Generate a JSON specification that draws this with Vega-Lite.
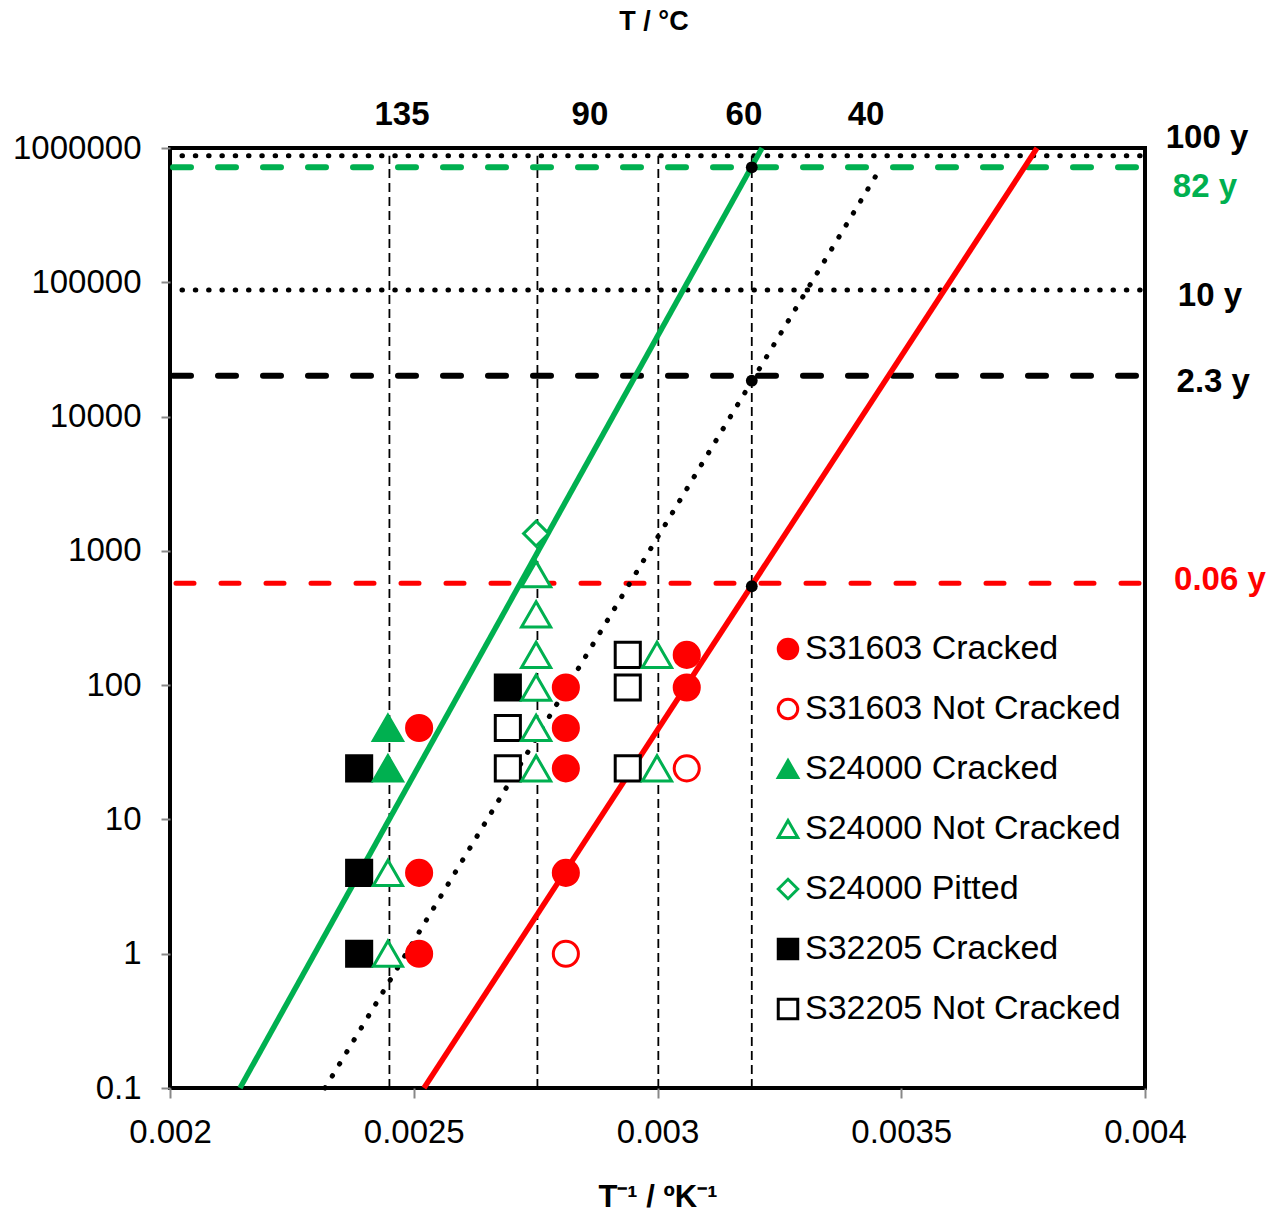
{
  "$schema": "https://vega.github.io/schema/vega-lite/v6.json",
  "width": 975,
  "height": 940,
  "autosize": {"type": "none"},
  "padding": {"left": 170, "top": 148, "right": 128, "bottom": 127},
  "background": "white",
  "config": {
    "view": {"stroke": "black", "strokeWidth": 4},
    "font": "Liberation Sans",
    "legend": {
      "orient": "none",
      "legendX": 601,
      "legendY": 484,
      "padding": 0,
      "labelFont": "Liberation Sans",
      "labelFontSize": 34,
      "labelColor": "black",
      "labelLimit": 500,
      "labelOffset": 0,
      "symbolSize": 380,
      "symbolStrokeWidth": 3,
      "rowPadding": 26
    }
  },
  "encoding": {
    "x": {
      "field": "x",
      "type": "quantitative",
      "scale": {"domain": [0.002, 0.004], "nice": false, "zero": false},
      "axis": {
        "values": [0.002, 0.0025, 0.003, 0.0035, 0.004],
        "format": "~f",
        "labelFont": "Liberation Sans",
        "labelFontSize": 33,
        "labelColor": "black",
        "labelPadding": 18,
        "labelFlush": false,
        "labelOverlap": false,
        "tickColor": "#888888",
        "tickSize": 10,
        "tickWidth": 2,
        "domain": false,
        "grid": false,
        "title": "T⁻¹ / ºK⁻¹",
        "titleFont": "Liberation Sans",
        "titleFontSize": 31,
        "titleFontWeight": "bold",
        "titleColor": "black",
        "titlePadding": 33
      }
    },
    "y": {
      "field": "hours",
      "type": "quantitative",
      "scale": {"type": "log", "domain": [0.1, 1000000], "nice": false},
      "axis": {
        "values": [0.1, 1, 10, 100, 1000, 10000, 100000, 1000000],
        "format": "~f",
        "labelFont": "Liberation Sans",
        "labelFontSize": 33,
        "labelColor": "black",
        "labelPadding": 20,
        "labelOverlap": false,
        "tickColor": "#888888",
        "tickSize": 9,
        "tickWidth": 2,
        "domain": false,
        "grid": false,
        "title": null
      }
    },
    "shape": {
      "field": "series", "type": "nominal",
      "scale": {
        "domain": ["S31603 Cracked", "S31603 Not Cracked", "S24000 Cracked", "S24000 Not Cracked", "S24000 Pitted", "S32205 Cracked", "S32205 Not Cracked"],
        "range": ["circle", "circle", "triangle-up", "triangle-up", "diamond", "square", "square"]
      },
      "legend": {"title": null}
    },
    "stroke": {
      "field": "series", "type": "nominal",
      "scale": {
        "domain": ["S31603 Cracked", "S31603 Not Cracked", "S24000 Cracked", "S24000 Not Cracked", "S24000 Pitted", "S32205 Cracked", "S32205 Not Cracked"],
        "range": ["#FF0000", "#FF0000", "#00B050", "#00B050", "#00B050", "#000000", "#000000"]
      },
      "legend": {"title": null}
    },
    "fill": {
      "field": "series", "type": "nominal",
      "scale": {
        "domain": ["S31603 Cracked", "S31603 Not Cracked", "S24000 Cracked", "S24000 Not Cracked", "S24000 Pitted", "S32205 Cracked", "S32205 Not Cracked"],
        "range": ["#FF0000", "#FFFFFF", "#00B050", "#FFFFFF", "#FFFFFF", "#000000", "#FFFFFF"]
      },
      "legend": {"title": null}
    }
  },
  "layer": [
    {
      "data": {"values": [
        {"x": 0.0024501, "hours": 0.1, "hours2": 876000},
        {"x": 0.0027537, "hours": 0.1, "hours2": 876000},
        {"x": 0.0030017, "hours": 0.1, "hours2": 876000},
        {"x": 0.0031934, "hours": 0.1, "hours2": 876000}
      ]},
      "mark": {"type": "rule", "color": "black", "strokeWidth": 1.8, "strokeDash": [9, 5]},
      "encoding": {"y2": {"field": "hours2"}, "shape": null, "stroke": null, "fill": null}
    },
    {
      "data": {"values": [
        {"x": 0.002, "x2": 0.004, "hours": 876000},
        {"x": 0.002, "x2": 0.004, "hours": 87600}
      ]},
      "mark": {"type": "rule", "color": "black", "strokeWidth": 5, "strokeDash": [0.5, 12.8], "strokeCap": "round", "strokeDashOffset": -12},
      "encoding": {"x2": {"field": "x2"}, "shape": null, "stroke": null, "fill": null}
    },
    {
      "data": {"values": [{"x": 0.002, "x2": 0.004, "hours": 718320}]},
      "mark": {"type": "rule", "color": "#00B050", "strokeWidth": 6, "strokeDash": [18, 27], "strokeCap": "round", "strokeDashOffset": -3},
      "encoding": {"x2": {"field": "x2"}, "shape": null, "stroke": null, "fill": null}
    },
    {
      "data": {"values": [{"x": 0.002, "x2": 0.004, "hours": 20148}]},
      "mark": {"type": "rule", "color": "black", "strokeWidth": 6, "strokeDash": [18, 27], "strokeCap": "round", "strokeDashOffset": -3},
      "encoding": {"x2": {"field": "x2"}, "shape": null, "stroke": null, "fill": null}
    },
    {
      "data": {"values": [{"x": 0.002, "x2": 0.004, "hours": 575}]},
      "mark": {"type": "rule", "color": "#FF0000", "strokeWidth": 5, "strokeDash": [18, 27], "strokeCap": "round", "strokeDashOffset": -6},
      "encoding": {"x2": {"field": "x2"}, "shape": null, "stroke": null, "fill": null}
    },
    {
      "data": {"values": [{"x": 0.0021436, "hours": 0.1}, {"x": 0.0032144, "hours": 1000000}]},
      "mark": {"type": "line", "color": "#00B050", "strokeWidth": 5.5},
      "encoding": {"shape": null, "stroke": null, "fill": null}
    },
    {
      "data": {"values": [{"x": 0.002521, "hours": 0.1}, {"x": 0.0037785, "hours": 1000000}]},
      "mark": {"type": "line", "color": "#FF0000", "strokeWidth": 5.5},
      "encoding": {"shape": null, "stroke": null, "fill": null}
    },
    {
      "data": {"values": [{"x": 0.00231795, "hours": 0.1}, {"x": 0.0034585, "hours": 718000}]},
      "mark": {"type": "line", "color": "black", "strokeWidth": 5, "strokeDash": [0.5, 13.5], "strokeCap": "round"},
      "encoding": {"shape": null, "stroke": null, "fill": null}
    },
    {
      "data": {"values": [{"x": 0.0031934, "hours": 718320}, {"x": 0.0031934, "hours": 18500}, {"x": 0.0031934, "hours": 545}]},
      "mark": {"type": "circle", "color": "black", "size": 140, "opacity": 1},
      "encoding": {"shape": null, "stroke": null, "fill": null}
    },
    {
      "data": {"values": [
        {"x": 0.002511, "hours": 48, "series": "S31603 Cracked"},
        {"x": 0.002511, "hours": 4, "series": "S31603 Cracked"},
        {"x": 0.002511, "hours": 1, "series": "S31603 Cracked"},
        {"x": 0.002812, "hours": 96, "series": "S31603 Cracked"},
        {"x": 0.002812, "hours": 48, "series": "S31603 Cracked"},
        {"x": 0.002812, "hours": 24, "series": "S31603 Cracked"},
        {"x": 0.002812, "hours": 4, "series": "S31603 Cracked"},
        {"x": 0.00306, "hours": 168, "series": "S31603 Cracked"},
        {"x": 0.00306, "hours": 96, "series": "S31603 Cracked"},
        {"x": 0.002812, "hours": 1, "series": "S31603 Not Cracked"},
        {"x": 0.00306, "hours": 24, "series": "S31603 Not Cracked"},
        {"x": 0.002751, "hours": 1344, "series": "S24000 Pitted"},
        {"x": 0.002388, "hours": 24, "series": "S32205 Cracked"},
        {"x": 0.002388, "hours": 4, "series": "S32205 Cracked"},
        {"x": 0.002388, "hours": 1, "series": "S32205 Cracked"},
        {"x": 0.002693, "hours": 96, "series": "S32205 Cracked"},
        {"x": 0.002693, "hours": 48, "series": "S32205 Not Cracked"},
        {"x": 0.002693, "hours": 24, "series": "S32205 Not Cracked"},
        {"x": 0.002939, "hours": 168, "series": "S32205 Not Cracked"},
        {"x": 0.002939, "hours": 96, "series": "S32205 Not Cracked"},
        {"x": 0.002939, "hours": 24, "series": "S32205 Not Cracked"}
      ]},
      "mark": {"type": "point", "strokeWidth": 3, "opacity": 1, "size": 630}
    },
    {
      "data": {"values": [
        {"x": 0.002447, "hours": 48, "series": "S24000 Cracked"},
        {"x": 0.002447, "hours": 24, "series": "S24000 Cracked"},
        {"x": 0.002447, "hours": 4, "series": "S24000 Not Cracked"},
        {"x": 0.002447, "hours": 1, "series": "S24000 Not Cracked"},
        {"x": 0.002751, "hours": 672, "series": "S24000 Not Cracked"},
        {"x": 0.002751, "hours": 336, "series": "S24000 Not Cracked"},
        {"x": 0.002751, "hours": 168, "series": "S24000 Not Cracked"},
        {"x": 0.002751, "hours": 96, "series": "S24000 Not Cracked"},
        {"x": 0.002751, "hours": 48, "series": "S24000 Not Cracked"},
        {"x": 0.002751, "hours": 24, "series": "S24000 Not Cracked"},
        {"x": 0.002999, "hours": 168, "series": "S24000 Not Cracked"},
        {"x": 0.002999, "hours": 24, "series": "S24000 Not Cracked"}
      ]},
      "mark": {"type": "point", "strokeWidth": 3, "opacity": 1, "size": 850}
    },
    {
      "data": {"values": [
        {"x": 0.0024759, "hours": 1761000, "label": "135"},
        {"x": 0.0028615, "hours": 1761000, "label": "90"},
        {"x": 0.0031774, "hours": 1761000, "label": "60"},
        {"x": 0.0034277, "hours": 1761000, "label": "40"}
      ]},
      "mark": {"type": "text", "font": "Liberation Sans", "fontSize": 33, "fontWeight": "bold", "color": "black", "align": "center", "baseline": "middle"},
      "encoding": {"text": {"field": "label"}, "shape": null, "stroke": null, "fill": null}
    },
    {
      "data": {"values": [{"x": 0.0029928, "hours": 8670000, "label": "T / °C"}]},
      "mark": {"type": "text", "font": "Liberation Sans", "fontSize": 27, "fontWeight": "bold", "color": "black", "align": "center", "baseline": "middle"},
      "encoding": {"text": {"field": "label"}, "shape": null, "stroke": null, "fill": null}
    },
    {
      "data": {"values": [
        {"x": 0.0041272, "hours": 1187000, "label": "100 y"},
        {"x": 0.0041333, "hours": 79070, "label": "10 y"},
        {"x": 0.00414, "hours": 18090, "label": "2.3 y"}
      ]},
      "mark": {"type": "text", "font": "Liberation Sans", "fontSize": 33, "fontWeight": "bold", "color": "black", "align": "center", "baseline": "middle"},
      "encoding": {"text": {"field": "label"}, "shape": null, "stroke": null, "fill": null}
    },
    {
      "data": {"values": [{"x": 0.004123, "hours": 512400, "label": "82 y"}]},
      "mark": {"type": "text", "font": "Liberation Sans", "fontSize": 33, "fontWeight": "bold", "color": "#00B050", "align": "center", "baseline": "middle"},
      "encoding": {"text": {"field": "label"}, "shape": null, "stroke": null, "fill": null}
    },
    {
      "data": {"values": [{"x": 0.0041538, "hours": 606.7, "label": "0.06 y"}]},
      "mark": {"type": "text", "font": "Liberation Sans", "fontSize": 33, "fontWeight": "bold", "color": "#FF0000", "align": "center", "baseline": "middle"},
      "encoding": {"text": {"field": "label"}, "shape": null, "stroke": null, "fill": null}
    }
  ]
}
